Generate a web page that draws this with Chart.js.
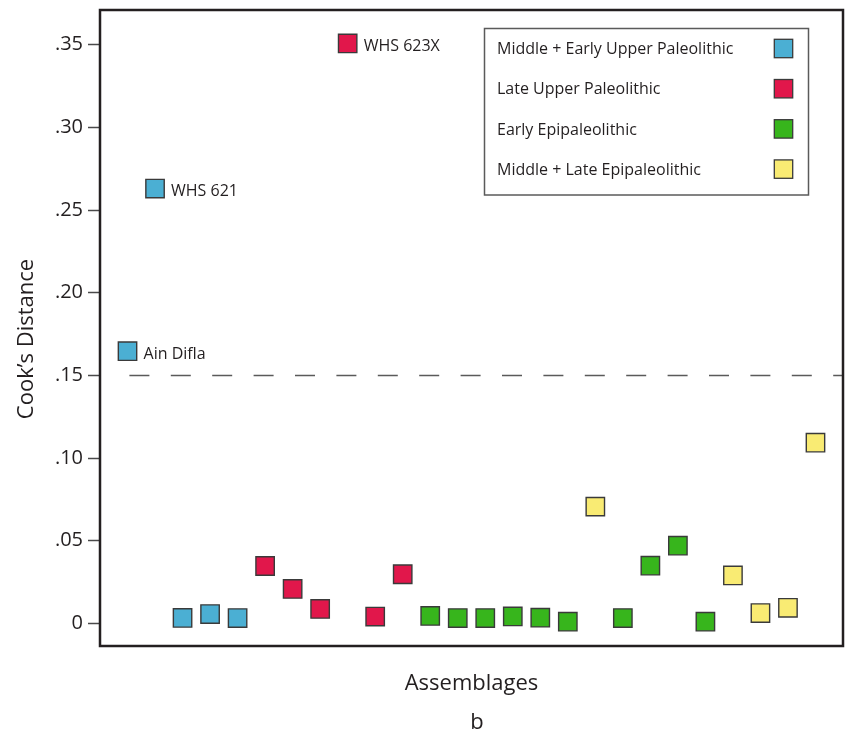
<!DOCTYPE html>
<html>
<head>
<meta charset="utf-8">
<title>Cook's Distance by assemblage</title>
<script src="https://cdn.jsdelivr.net/npm/chart.js@4.4.1/dist/chart.umd.min.js"></script>
<style>
  html, body { margin: 0; padding: 0; background: #ffffff; }
  canvas { display: block; }
</style>
</head>
<body>
<canvas id="chart" width="846" height="736"></canvas>
<script>
// ---- data -------------------------------------------------------------
const periods = [
  'Middle + Early Upper Paleolithic',
  'Late Upper Paleolithic',
  'Early Epipaleolithic',
  'Middle + Late Epipaleolithic'
];
const periodColors = ['#4BAFD3', '#E1174B', '#37B51C', '#F9EB73'];

// assemblage order along the x axis, Cook's distance, and site names
const mePalOrder  = [1, 2, 3, 4, 5];
const mePalValues = [0.1646, 0.2630, 0.0033, 0.0056, 0.0032];
const mePalNames  = ['Ain Difla', 'WHS 621', '', '', ''];

const lupOrder  = [6, 7, 8, 9, 10, 11];
const lupValues = [0.0347, 0.0208, 0.0087, 0.3508, 0.0041, 0.0297];
const lupNames  = ['', '', '', 'WHS 623X', '', ''];

const eepiOrder  = [12, 13, 14, 15, 16, 17, 19, 20, 21, 22];
const eepiValues = [0.0045, 0.0032, 0.0032, 0.0042, 0.0034, 0.0010, 0.0032, 0.0349, 0.0470, 0.0010];

const mlEpiOrder  = [18, 23, 24, 25, 26];
const mlEpiValues = [0.0706, 0.0290, 0.0062, 0.0094, 0.1093];

const yTickValues = [0, 0.05, 0.10, 0.15, 0.20, 0.25, 0.30, 0.35];
const cutoff = 0.15;

// ---- helpers ----------------------------------------------------------
const FONT = '"Open Sans", "Noto Sans", "DejaVu Sans", sans-serif';
const pts = (order, values) => order.map((o, i) => ({ x: o, y: values[i] }));
const fmtTick = v => v === 0 ? '0' : '.' + String(Math.round(v * 100)).padStart(2, '0');

const series = [
  { data: pts(mePalOrder, mePalValues), names: mePalNames },
  { data: pts(lupOrder, lupValues), names: lupNames },
  { data: pts(eepiOrder, eepiValues), names: [] },
  { data: pts(mlEpiOrder, mlEpiValues), names: [] }
];

// dashed cut-off line under the points
const cutoffPlugin = {
  id: 'cutoff',
  beforeDatasetsDraw(chart) {
    const { ctx, chartArea: a, scales } = chart;
    ctx.save();
    const yc = Math.round(scales.y.getPixelForValue(cutoff)) + 0.5;
    ctx.strokeStyle = '#5a5a5a';
    ctx.lineWidth = 1.5;
    ctx.setLineDash([20, 21.4]);
    ctx.lineDashOffset = 20;
    ctx.beginPath();
    ctx.moveTo(a.left + 8, yc);
    ctx.lineTo(a.right, yc);
    ctx.stroke();
    ctx.restore();
  }
};

// site names beside the highlighted points, y title, panel letter
const labelsPlugin = {
  id: 'siteLabels',
  afterDatasetsDraw(chart) {
    const { ctx } = chart;
    ctx.save();
    ctx.fillStyle = '#231F20';
    ctx.font = '16px ' + FONT;
    ctx.textAlign = 'left';
    ctx.textBaseline = 'alphabetic';
    chart.data.datasets.forEach((ds, di) => {
      const meta = chart.getDatasetMeta(di);
      (ds.siteNames || []).forEach((name, i) => {
        if (!name) return;
        const el = meta.data[i];
        ctx.fillText(name, el.x + 16, el.y + 7.5);
      });
    });

    // y axis title
    ctx.font = '22px ' + FONT;
    ctx.save();
    ctx.translate(33, 339);
    ctx.rotate(-Math.PI / 2);
    ctx.textAlign = 'center';
    ctx.fillText('Cook\u2019s Distance', 0, 0);
    ctx.restore();

    // panel letter
    ctx.textAlign = 'center';
    ctx.fillText('b', 477, 729);
    ctx.restore();
  }
};

// framed legend: period names on the left, swatches on the right
const boxLegendPlugin = {
  id: 'boxLegend',
  afterDraw(chart, args, o) {
    const { ctx } = chart;
    ctx.save();
    ctx.strokeStyle = '#5a5a5a';
    ctx.lineWidth = 1.5;
    ctx.strokeRect(o.left, o.top, o.width, o.height);
    ctx.font = '16px ' + FONT;
    ctx.textBaseline = 'alphabetic';
    ctx.textAlign = 'left';
    chart.data.datasets.forEach((ds, i) => {
      const cy = o.firstRow + i * o.rowGap;
      ctx.fillStyle = '#231F20';
      ctx.fillText(ds.label, o.textX, cy + 5.7);
      const s = o.swatch;
      ctx.fillStyle = ds.backgroundColor;
      ctx.fillRect(o.swatchX - s / 2, cy - s / 2, s, s);
      ctx.strokeStyle = '#3a3a3a';
      ctx.lineWidth = 1.3;
      ctx.strokeRect(o.swatchX - s / 2, cy - s / 2, s, s);
    });
    ctx.restore();
  }
};

// box round the plot area, drawn last so nothing covers it
const framePlugin = {
  id: 'frame',
  afterDraw(chart) {
    const { ctx, chartArea: a } = chart;
    ctx.save();
    ctx.strokeStyle = '#231F20';
    ctx.lineWidth = 2.5;
    ctx.strokeRect(a.left, a.top, a.right - a.left, a.bottom - a.top);
    ctx.restore();
  }
};

new Chart(document.getElementById('chart'), {
  type: 'scatter',
  data: {
    datasets: series.map((s, i) => ({
      label: periods[i],
      data: s.data,
      siteNames: s.names,
      backgroundColor: periodColors[i],
      borderColor: '#3a3a3a',
      borderWidth: 1.4,
      pointStyle: 'rect',
      pointRadius: 13,
      pointHoverRadius: 13
    }))
  },
  options: {
    responsive: false,
    animation: false,
    events: [],
    layout: { autoPadding: false, padding: { left: 0, top: 10, right: 3, bottom: 0 } },
    plugins: {
      legend: { display: false },
      tooltip: { enabled: false },
      boxLegend: {
        left: 484.5, top: 28.5, width: 324, height: 166.5,
        firstRow: 48.5, rowGap: 40.2, textX: 497, swatchX: 783.5, swatch: 18.4
      }
    },
    scales: {
      x: {
        type: 'linear',
        min: 0,
        max: 27,
        grid: { display: false },
        border: { display: false },
        ticks: { display: false },
        title: {
          display: true,
          text: 'Assemblages',
          color: '#231F20',
          font: { family: FONT, size: 22 },
          padding: { top: 0, bottom: 39 }
        },
        afterFit(scale) {
          scale.height = 90;
          scale.paddingLeft = 0;
          scale.paddingRight = 0;
        }
      },
      y: {
        type: 'linear',
        min: -0.0137,
        max: 0.371,
        border: { display: false },
        grid: {
          drawOnChartArea: false,
          drawTicks: true,
          tickLength: 12,
          tickColor: '#4a4a4a',
          tickWidth: 1.5
        },
        ticks: {
          padding: 5,
          color: '#231F20',
          font: { family: FONT, size: 20 },
          callback: v => fmtTick(v)
        },
        afterBuildTicks(scale) { scale.ticks = yTickValues.map(v => ({ value: v })); },
        afterFit(scale) {
          scale.width = 100;
          scale.paddingTop = 0;
          scale.paddingBottom = 0;
        }
      }
    }
  },
  plugins: [cutoffPlugin, labelsPlugin, boxLegendPlugin, framePlugin]
});
</script>
</body>
</html>
